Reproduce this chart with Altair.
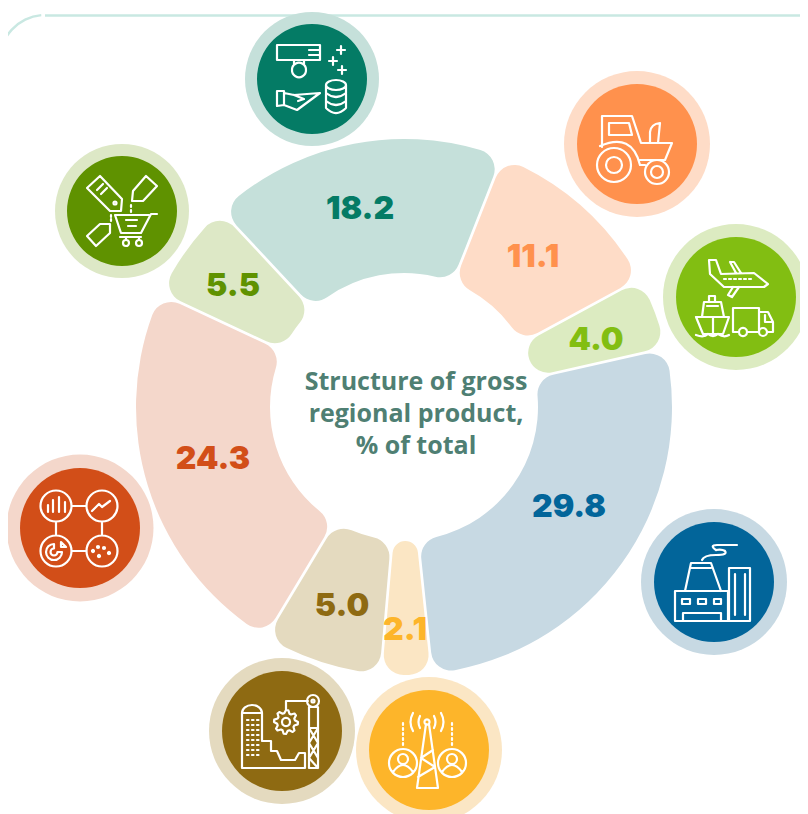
import math
import altair as alt
import pandas as pd

# ---- values
labels = ["18.2", "11.1", "4.0", "29.8", "2.1", "5.0", "24.3", "5.5"]
starts = [-43.0, 21.5, 61.5, 77.3, 174.0, 185.0, 211.0, 295.0]
ends = [21.5, 61.5, 77.3, 174.0, 185.0, 211.0, 295.0, 317.0]
title_lines = ["Structure of gross", "regional product,", "% of total"]

# ---- styles and layout
dark = ["#047B65", "#FF914D", "#82BE12", "#02659A", "#FDB52A", "#8E6A12", "#D24E18", "#5F9200"]
light = ["#C5E0DA", "#FEDCC7", "#DCEBC1", "#C7D9E3", "#FBE6C4", "#E4DABF", "#F4D7CB", "#DDE8C6"]
label_x = [360, 533, 596, 569, 405, 342, 213, 233]
label_y = [209, 257, 340, 507, 630, 606, 459, 286]
bubble_x = [312, 637, 736, 714, 429, 282, 80, 122]
bubble_y = [79, 144, 297, 582, 750, 731, 528, 211]
outer_r = [67, 73, 73, 73, 73, 73, 73.5, 67]
inner_r = [55, 60, 60, 60, 60, 60, 60, 55]
CX, CY = 404, 407
W, H = 792, 806
U = 60.0


def n(v):
    return f"{v / U:.4f}"


def P(*pts, close=False):
    s = "M" + " L".join(f"{n(x)} {n(y)}" for x, y in pts)
    return s + ("Z" if close else "")


def E(cx, cy, rx, ry=None):
    ry = rx if ry is None else ry
    return (f"M{n(cx - rx)} {n(cy)} A{n(rx)} {n(ry)} 0 1 0 {n(cx + rx)} {n(cy)} "
            f"A{n(rx)} {n(ry)} 0 1 0 {n(cx - rx)} {n(cy)}Z")


def R(x0, y0, x1, y1):
    return P((x0, y0), (x1, y0), (x1, y1), (x0, y1), close=True)


def Q(x0, y0, cx, cy, x1, y1):
    return f"M{n(x0)} {n(y0)} Q{n(cx)} {n(cy)} {n(x1)} {n(y1)}"


def plus(x, y, d=4):
    return P((x - d, y), (x + d, y)) + P((x, y - d), (x, y + d))


def gear(cx, cy, r0, r1, teeth=8):
    pts = []
    for i in range(teeth * 4):
        a = 2 * math.pi * i / (teeth * 4)
        r = r1 if i % 4 in (0, 1) else r0
        pts.append((cx + r * math.cos(a), cy + r * math.sin(a)))
    return P(*pts, close=True)


def pie_ring(cx, cy, r0, r1):
    return (f"M{n(cx)} {n(cy - r0)} A{n(r0)} {n(r0)} 0 1 0 {n(cx + r0)} {n(cy)} L{n(cx + r1)} {n(cy)} "
            f"A{n(r1)} {n(r1)} 0 1 1 {n(cx)} {n(cy - r1)}Z")


icon_teal = "".join([
    R(-35, -34, 8, -19), P((-3, -29), (8, -29)), P((-3, -24), (8, -24)),
    P((-18, -19), (-18, -14)), P((-8, -19), (-8, -14)), E(-13, -9, 7),
    plus(29, -29), plus(21, -18), plus(30, -9),
    P((-35, 12), (-28, 12), (-28, 14), (-18, 16), (8, 14), (-15, 31), (-28, 26), (-35, 27), close=True),
    P((-28, 14), (-28, 26)), P((-18, 16), (-8, 20), (-14, 22)),
    E(24, 6, 10, 5), P((14, 6), (14, 29)), P((34, 6), (34, 29)),
    Q(14, 14, 24, 22, 34, 14), Q(14, 22, 24, 30, 34, 22), Q(14, 29, 24, 39, 34, 29),
])
icon_orange = "".join([
    E(-23, 21, 17), E(-23, 21, 8), E(20, 28, 12), E(20, 28, 6),
    P((-35, 3), (-35, -28), (-5, -28), (4, -1), (35, -1), (28, 16), (3, 16)),
    Q(-37, 2, -5, -12, 3, 21), P((3, 21), (8, 21)),
    P((-28, -21), (-8, -21), (-5, -9), (-28, -9), close=True),
    P((13, -1), (13, -12)), Q(13, -12, 14, -20, 23, -21), P((23, -21), (21, -1)),
])
icon_lime = "".join([
    P((-27, -37), (-20, -37), (-15, -23), (18, -24), (32, -13), (28, -10), (-12, -10), (-26, -23), close=True),
    P((-6, -35), (-2, -35), (5, -24)), P((-6, -35), (0, -24)),
    P((-3, -10), (-8, -2), (-4, 0), (3, -10)),
    "".join(P((x, -18), (x + 2, -18)) for x in (-12, -7, -2, 3, 8, 13)),
    P((-40, 20), (-7, 20), (-13, 37), (-33, 37), close=True),
    P((-34, 20), (-32, 5), (-15, 5), (-12, 20)),
    P((-27, 5), (-27, -1), (-21, -1), (-21, 5)), P((-29, 9), (-18, 9)), P((-23, 20), (-23, 37)),
    Q(-40, 38, -32, 41, -28, 37), Q(-28, 37, -23, 41, -18, 37), Q(-18, 37, -12, 41, -7, 38),
    P((3, 35), (-3, 35), (-3, 11), (23, 11), (23, 35), (11, 35)),
    P((23, 15), (32, 15), (37, 25), (37, 35), (31, 35)),
    E(7, 35, 4), E(27, 35, 4), P((29, 18), (29, 25), (36, 25)),
])
icon_blue = "".join([
    R(-39, 9, 14, 39), P((-29, 9), (-23, -19), (-3, -19), (7, 9)), P((-23, -14), (-3, -14)),
    R(-32, 17, -24, 22), R(-16, 17, -8, 22), R(0, 17, 7, 22),
    P((-31, 38), (-31, 31), (7, 31), (7, 38)),
    R(15, -14, 36, 39), P((21, -8), (21, 33)), P((31, -8), (31, 33)),
    Q(-12, -22, -10, -27, 2, -27), Q(2, -27, 14, -27, 11, -31), Q(11, -31, 8, -33, 2, -32),
    Q(2, -32, -5, -37, 3, -37), P((3, -37), (23, -37)),
])
icon_yellow = "".join([
    E(-2, -28, 2.5),
    P((-3, -26), (-12, 38), (9, 38), (0, -26)),
    P((-8, 8), (4, 0)), P((-8, 8), (6, 17)), P((6, 17), (-11, 27)),
    Q(-9, -34, -12, -28, -9, -22), Q(5, -34, 8, -28, 5, -22),
    Q(-16, -37, -21, -28, -16, -19), Q(12, -37, 17, -28, 12, -19),
    E(-26, 13, 14), E(-26, 9, 5), Q(-36, 22, -26, 8, -16, 22),
    E(23, 13, 14), E(23, 9, 5), Q(13, 22, 23, 8, 33, 22),
    "".join(P((-26, y), (-26, y + 2)) for y in (-27, -22, -17, -12, -7)),
    "".join(P((23, y), (23, y + 2)) for y in (-27, -22, -17, -12, -7)),
])
icon_brown = "".join([
    P((-40, -18), (-40, 37), (23, 37), (23, 22), (17, 22), (13, 29), (-1, 29), (-5, 20), (-11, 20), (-11, 10), (-20, 10), (-20, -18)),
    f"M{n(-40)} {n(-18)} A{n(10)} {n(8)} 0 0 1 {n(-20)} {n(-18)}", P((-40, -18), (-20, -18)),
    "".join(P((x, y), (x + 1.5, y)) for x in (-35, -30, -25) for y in (-11, -6, -1, 4, 9, 14, 19, 24)),
    gear(4, -9, 9, 12), E(4, -9, 4),
    P((4, -21), (4, -30), (26, -30)), E(31, -30, 6), E(31, -30, 1.5),
    R(27, -24, 36, 37), P((27, -3), (36, -3)), P((27, -3), (36, 12)), P((36, -3), (27, 12)),
    P((27, 12), (36, 27)), P((36, 12), (27, 27)), P((27, 27), (36, 37)),
])
icon_red = "".join([
    E(-24, -22, 15.5), E(22, -22, 15.5), E(-24, 23, 15.5), E(22, 23, 15.5),
    P((-8, -22), (6, -22)), P((-8, 23), (6, 23)), P((-24, -6), (-24, 7)), P((22, -6), (22, 7)),
    P((-32, -16), (-32, -23)), P((-27, -16), (-27, -28)),
    P((-21, -16), (-21, -31)), P((-15, -16), (-15, -26)),
    P((12, -17), (19, -24), (22, -21), (30, -27)),
    pie_ring(-26, 24, 8, 3.5), P((-19, 14), (-14, 19), (-19, 19), close=True),
    E(13, 23, 1), E(19, 28, 1), E(24, 20, 1), E(29, 25, 1), E(18, 19, 1),
])
icon_green = "".join([
    P((-35, -23), (-22, -35), (0, -12), (-1, 0), (-12, 0), close=True), E(-7, -8, 1.5),
    P((-25, -21), (-19, -27)), P((-21, -17), (-15, -23)),
    P((11, -20), (24, -35), (35, -25), (21, -10), (10, -10), close=True),
    P((-35, 25), (-22, 13), (-12, 13), (-12, 22), (-26, 35), close=True),
    P((9, -6), (9, -4)), P((9, -1), (9, 1)), P((-11, 4), (-11, 6)), P((-11, 8), (-11, 10)),
    P((35, 3), (29, 3), (19, 22), (-1, 22), (-7, 4), (27, 4)),
    P((4, 9), (15, 9)), P((6, 15), (14, 15)),
    P((-2, 26), (19, 26)), P((4, 26), (4, 29)), P((17, 26), (17, 29)), E(4, 32, 3), E(17, 32, 3),
])
icons = [icon_teal, icon_orange, icon_lime, icon_blue, icon_yellow, icon_brown, icon_red, icon_green]

# ---- tables
segments = pd.DataFrame({"start": starts, "end": ends, "light": light})
bubbles = pd.DataFrame({
    "x": bubble_x, "y": bubble_y, "light": light, "dark": dark,
    "outer": [(2 * r) ** 2 for r in outer_r], "inner": [(2 * r) ** 2 for r in inner_r],
})
texts = pd.DataFrame({"x": label_x, "y": label_y, "label": labels, "dark": dark})
title = pd.DataFrame({"x": [416, 416, 416], "y": [382, 414, 446], "line": title_lines})

x_enc = alt.X("x:Q", scale=alt.Scale(domain=[8, 8 + W], nice=False, zero=False), axis=None)
y_enc = alt.Y("y:Q", scale=alt.Scale(domain=[8 + H, 8], nice=False, zero=False), axis=None)

frame_line = alt.Chart(pd.DataFrame({"a": [0]})).mark_rule(color="#C9E8E2", strokeWidth=2.5).encode(
    x=alt.value(37), x2=alt.value(W), y=alt.value(7.5))
frame_arc = alt.Chart(pd.DataFrame({"a": [0]})).mark_arc(
    radius=46.2, radius2=43.8, theta=4.71, theta2=6.2, color="#C9E8E2"
).encode(x=alt.value(37), y=alt.value(52))

arcs = alt.Chart(segments).mark_arc(radius=268, radius2=134, cornerRadius=20, padAngle=0.009).encode(
    theta=alt.Theta("start:Q", scale=alt.Scale(domain=[0, 360], range=[0, 2 * math.pi]), stack=None),
    theta2="end:Q",
    x=alt.value(CX - 8),
    y=alt.value(CY - 8),
    color=alt.Color("light:N", scale=None),
)
halo = alt.Chart(bubbles).mark_circle(opacity=1).encode(
    x=x_enc, y=y_enc, size=alt.Size("outer:Q", scale=None), color=alt.Color("light:N", scale=None))
disc = alt.Chart(bubbles).mark_circle(opacity=1).encode(
    x=x_enc, y=y_enc, size=alt.Size("inner:Q", scale=None), color=alt.Color("dark:N", scale=None))
glyphs = [
    alt.Chart(bubbles.iloc[[i]]).mark_point(
        shape=icons[i], size=(2 * U) ** 2, filled=False, stroke="white", strokeWidth=2.2, opacity=1,
        strokeJoin="round", strokeCap="round",
    ).encode(x=x_enc, y=y_enc)
    for i in range(len(icons))
]
value_text = alt.Chart(texts).mark_text(
    font="Inter", fontSize=32, fontWeight=900, align="center", baseline="middle"
).encode(x=x_enc, y=y_enc, text="label:N", color=alt.Color("dark:N", scale=None))
title_text = alt.Chart(title).mark_text(
    font="Open Sans", fontSize=25, fontWeight=700, align="center", baseline="middle", color="#4F7F73"
).encode(x=x_enc, y=y_enc, text="line:N")

chart = alt.layer(frame_line, frame_arc, arcs, halo, disc, *glyphs, value_text, title_text).properties(
    width=W, height=H, padding=0, background="white", autosize=alt.AutoSizeParams(type="none")
).configure_view(stroke=None)

chart.save("out.html", embed_options={"renderer": "svg", "actions": False})
